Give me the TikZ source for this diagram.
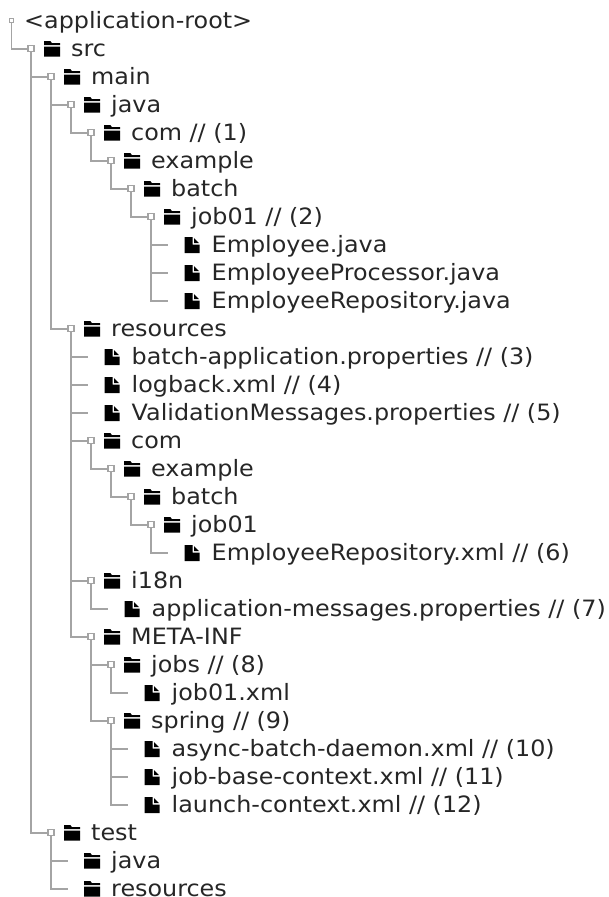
\documentclass[tikz,border=0pt]{standalone}
\usepackage{fontspec}
\setmainfont[FakeStretch=1.06]{DejaVu Sans}
\newcommand{\rowy}[1]{20.7+28*#1}
\definecolor{linegray}{HTML}{A4A4A4}
\definecolor{textdark}{HTML}{262626}
\tikzset{
  markbox/.style={draw=linegray,fill=white,line width=1.3pt,minimum size=6pt,inner sep=0pt,outer sep=0pt},
  conn/.style={draw=linegray,line width=1.8pt},
  lbl/.style={anchor=base west,inner sep=0pt,font=\fontsize{22.5}{26}\selectfont,text=textdark},
}
% icons, centred on a point
\newcommand{\foldericon}[2]{%
  \fill[black,shift={(#1,#2)}] (-8,-7.5) -- (-1.5,-7.5) -- (0,-5.5) -- (8,-5.5) -- (8,-3.5) -- (-8,-3.5) -- cycle
    (-8,-2.2) -- (8,-2.2) -- (8,8) -- (-8,8) -- cycle;}
\newcommand{\fileicon}[2]{%
  \fill[black,shift={(#1,#2)}] (-7.5,-8) -- (0.5,-8) -- (0.5,-0.5) -- (7.5,-0.5) -- (7.5,8) -- (-7.5,8) -- cycle
    (2,-7) -- (7,-2) -- (2,-2) -- cycle;}
% \dirnode{name}{parent}{level}{row}{text}
\newcommand{\dirnode}[5]{%
  \node[markbox] (#1) at ({11+20*#3},{\rowy{#4}}) {};
  \draw[conn] (#2) |- (#1);
  \foldericon{{11+20*#3+21}}{{\rowy{#4}}}
  \node[lbl] (#1t) at ({11+20*#3+40},{\rowy{#4}+7.8}) {#5};}
% \filenode{name}{parent}{stem level}{row}{text}
\newcommand{\filenode}[5]{%
  \coordinate (#1) at ({11+20*#3+17},{\rowy{#4}});
  \draw[conn] (#2) |- (#1);
  \fileicon{{11+20*#3+41}}{{\rowy{#4}+0.5}}
  \node[lbl] (#1t) at ({11+20*#3+60.5},{\rowy{#4}+7.8}) {#5};}
% \emptydir{name}{parent}{stem level}{row}{text}
\newcommand{\emptydir}[5]{%
  \coordinate (#1) at ({11+20*#3+17},{\rowy{#4}});
  \draw[conn] (#2) |- (#1);
  \foldericon{{11+20*#3+41}}{{\rowy{#4}}}
  \node[lbl] (#1t) at ({11+20*#3+60},{\rowy{#4}+7.8}) {#5};}
\begin{document}
\begin{tikzpicture}[x=1pt,y=-1pt]
\useasboundingbox (0,0) rectangle (608,897);
\node[markbox,minimum size=3.5pt,line width=1pt] (root) at (11.5,{\rowy{0}}) {};
\node[lbl] (roott) at (24,{\rowy{0}+7.8}) {<application-root>};
\dirnode{src}{root}{1}{1}{src}
\dirnode{main}{src}{2}{2}{main}
\dirnode{java}{main}{3}{3}{java}
\dirnode{com}{java}{4}{4}{com // (1)}
\dirnode{example}{com}{5}{5}{example}
\dirnode{batch}{example}{6}{6}{batch}
\dirnode{job}{batch}{7}{7}{job01 // (2)}
\filenode{fa}{job}{7}{8}{Employee.java}
\filenode{fb}{job}{7}{9}{EmployeeProcessor.java}
\filenode{fc}{job}{7}{10}{EmployeeRepository.java}
\dirnode{res}{main}{3}{11}{resources}
\filenode{ra}{res}{3}{12}{batch-application.properties // (3)}
\filenode{rb}{res}{3}{13}{logback.xml // (4)}
\filenode{rc}{res}{3}{14}{ValidationMessages.properties // (5)}
\dirnode{rcom}{res}{4}{15}{com}
\dirnode{rex}{rcom}{5}{16}{example}
\dirnode{rba}{rex}{6}{17}{batch}
\dirnode{rjob}{rba}{7}{18}{job01}
\filenode{rd}{rjob}{7}{19}{EmployeeRepository.xml // (6)}
\dirnode{iten}{res}{4}{20}{i18n}
\filenode{im}{iten}{4}{21}{application-messages.properties // (7)}
\dirnode{meta}{res}{4}{22}{META-INF}
\dirnode{jobs}{meta}{5}{23}{jobs // (8)}
\filenode{jx}{jobs}{5}{24}{job01.xml}
\dirnode{spring}{meta}{5}{25}{spring // (9)}
\filenode{sa}{spring}{5}{26}{async-batch-daemon.xml // (10)}
\filenode{sb}{spring}{5}{27}{job-base-context.xml // (11)}
\filenode{sc}{spring}{5}{28}{launch-context.xml // (12)}
\dirnode{test}{src}{2}{29}{test}
\emptydir{tj}{test}{2}{30}{java}
\emptydir{tr}{test}{2}{31}{resources}
\end{tikzpicture}
\end{document}
